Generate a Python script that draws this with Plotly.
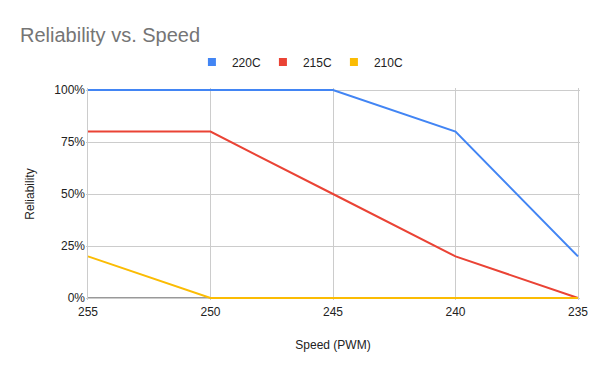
import plotly.graph_objects as go

speeds = [255, 250, 245, 240, 235]
s220 = [1.00, 1.00, 1.00, 0.80, 0.20]
s215 = [0.80, 0.80, 0.50, 0.20, 0.00]
s210 = [0.20, 0.00, 0.00, 0.00, 0.00]
names = ["220C", "215C", "210C"]
colors = ["#4285F4", "#EA4335", "#FBBC04"]

W, H = 592, 363
L, R, T, B = 78, 17, 80, 71
pw, ph = W - L - R, H - T - B
xpad = 2 * 20 / (pw - 4)
ypad = 2 * 1.0 / (ph - 4)

fig = go.Figure()
fig.add_shape(type="line", xref="x", yref="y", x0=255, x1=235, y0=0, y1=0,
              line=dict(color="#333333", width=1), layer="below")
for name, vals, c in zip(names, [s220, s215, s210], colors):
    fig.add_trace(go.Scatter(x=speeds, y=vals, name=name, mode="lines",
                             line=dict(color=c, width=2), showlegend=False))
    fig.add_trace(go.Scatter(x=[None], y=[None], name=name, mode="markers",
                             marker=dict(color=c, symbol="square", size=8), showlegend=True))

font = "Liberation Sans, Arial, sans-serif"
fig.update_layout(
    width=W, height=H,
    margin=dict(l=L, r=R, t=T, b=B),
    paper_bgcolor="white", plot_bgcolor="white",
    font=dict(family=font, size=12, color="#222222"),
    title=dict(text="Reliability vs. Speed", x=12 / W, xanchor="left", y=1 - 27 / H, yanchor="middle",
               font=dict(size=20, color="#757575", family=font)),
    legend=dict(orientation="h", x=0.43, xanchor="center", y=(T + ph - 54) / ph, yanchor="middle",
                font=dict(size=12, color="#222222"), itemwidth=30, traceorder="normal",
                entrywidth=26, entrywidthmode="pixels"),
    xaxis=dict(range=[255 + xpad, 235 - xpad], tickvals=speeds, ticktext=[str(s) for s in speeds],
               showgrid=True, gridcolor="#cccccc", zeroline=False, showline=False,
               ticks="", tickfont=dict(size=12, color="#222222"), ticklabelstandoff=3,
               title=dict(text="Speed (PWM)", font=dict(size=12, color="#222222"), standoff=22)),
    yaxis=dict(range=[-ypad, 1.0 + ypad], tickvals=[0, 0.25, 0.5, 0.75, 1.0],
               ticktext=["0%", "25%", "50%", "75%", "100%"],
               showgrid=True, gridcolor="#cccccc", zeroline=False, showline=False,
               ticks="", tickfont=dict(size=12, color="#222222"),
               title=dict(text="Reliability", font=dict(size=12, color="#222222"), standoff=17)),
    showlegend=True,
)
fig.write_html("out.html")
